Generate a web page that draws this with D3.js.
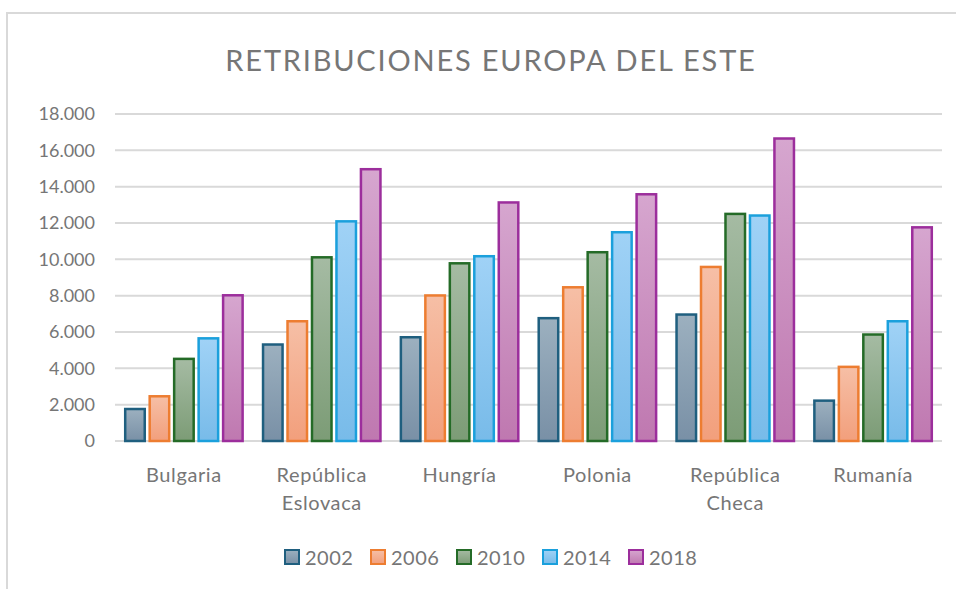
<!DOCTYPE html>
<html>
<head>
<meta charset="utf-8">
<script src="https://cdn.jsdelivr.net/npm/d3@7"></script>
<style>
  body { margin: 0; background: #fff; }
  text { font-family: Lato, "Open Sans", sans-serif; fill: #767676; }
</style>
</head>
<body>
<div id="chart"></div>
<script>
var countries = ["Bulgaria", "República Eslovaca", "Hungría", "Polonia", "República Checa", "Rumanía"];
var years = ["2002", "2006", "2010", "2014", "2018"];
var v2002 = [1830, 5380, 5780, 6830, 7030, 2290];
var v2006 = [2530, 6660, 8080, 8530, 9650, 4150];
var v2010 = [4590, 10180, 9850, 10460, 12570, 5930];
var v2014 = [5720, 12160, 10240, 11560, 12480, 6660];
var v2018 = [8090, 15030, 13200, 13650, 16720, 11830];
var yTicks = [0, 2000, 4000, 6000, 8000, 10000, 12000, 14000, 16000, 18000];

var seriesValues = [v2002, v2006, v2010, v2014, v2018];
var strokes = ["#1f5f7f", "#ed7d31", "#246b27", "#1ba0dc", "#9c2e9c"];
var topFill = ["#9cb0bf", "#f6bfa6", "#a5bba3", "#a0d2f6", "#d6a6cf"];
var botFill = ["#7990a6", "#f29f7c", "#7c9c76", "#78bbe9", "#bf78b0"];

var svgWidth = 956, svgHeight = 589;
var margin = {top: 114, right: 14, bottom: 148, left: 115};
var width = svgWidth - margin.left - margin.right;
var height = svgHeight - margin.top - margin.bottom;

var svg = d3.select("#chart").append("svg")
  .attr("width", svgWidth)
  .attr("height", svgHeight);

// frame
svg.append("path")
  .attr("d", "M7,589 L7,13 L956,13")
  .attr("fill", "none")
  .attr("stroke", "#d9d9d9")
  .attr("stroke-width", 2);

var defs = svg.append("defs");
years.forEach(function(y, i) {
  var g = defs.append("linearGradient")
    .attr("id", "grad" + i)
    .attr("x1", 0).attr("y1", 0).attr("x2", 0).attr("y2", 1);
  g.append("stop").attr("offset", "0%").attr("stop-color", topFill[i]);
  g.append("stop").attr("offset", "100%").attr("stop-color", botFill[i]);
});

svg.append("text")
  .attr("x", 491)
  .attr("y", 71)
  .attr("text-anchor", "middle")
  .style("font-size", "29px")
  .style("letter-spacing", "1.8px")
  .text("RETRIBUCIONES  EUROPA DEL ESTE");

var chartGroup = svg.append("g")
  .attr("transform", `translate(${margin.left}, ${margin.top})`);

var x0 = d3.scaleBand().domain(countries).range([0, width]).paddingInner(0.13).paddingOuter(0.065);
var x1 = d3.scaleBand().domain(years).range([0, x0.bandwidth()]).paddingInner(0.1);
var yScale = d3.scaleLinear().domain([0, 18000]).range([height, 0]);

// gridlines
chartGroup.append("g")
  .selectAll("line")
  .data(yTicks)
  .enter()
  .append("line")
  .attr("x1", 0).attr("x2", width)
  .attr("y1", d => yScale(d)).attr("y2", d => yScale(d))
  .attr("stroke", "#d9d9d9")
  .attr("stroke-width", 2);

// y axis labels
var leftAxis = d3.axisLeft(yScale)
  .tickValues(yTicks)
  .tickSize(0)
  .tickPadding(20)
  .tickFormat(d => d === 0 ? "0" : d3.format(",")(d).replace(/,/g, "."));
var yAxisG = chartGroup.append("g").call(leftAxis);
yAxisG.select(".domain").remove();
yAxisG.selectAll("text").style("font-size", "18px").style("fill", "#767676")
  .style("font-family", "Lato, 'Open Sans', sans-serif");

// bars
var groups = chartGroup.selectAll(".country")
  .data(countries)
  .enter()
  .append("g")
  .attr("transform", d => `translate(${x0(d)}, 0)`);

groups.selectAll("rect")
  .data((c, ci) => years.map((y, si) => ({year: y, si: si, value: seriesValues[si][ci]})))
  .enter()
  .append("rect")
  .attr("x", d => x1(d.year) + 1.25)
  .attr("width", x1.bandwidth() - 2.5)
  .attr("y", d => yScale(d.value) + 1.25)
  .attr("height", d => height - yScale(d.value) - 1.25)
  .attr("fill", d => "url(#grad" + d.si + ")")
  .attr("stroke", d => strokes[d.si])
  .attr("stroke-width", 2.5);

// category labels
var catG = chartGroup.append("g");
countries.forEach(function(c) {
  var words = c.split(" ");
  var t = catG.append("text")
    .attr("text-anchor", "middle")
    .attr("x", x0(c) + x0.bandwidth() / 2)
    .attr("y", height + 41)
    .style("font-size", "20px")
    .style("letter-spacing", "0.6px");
  words.forEach(function(w, i) {
    t.append("tspan")
      .attr("x", x0(c) + x0.bandwidth() / 2)
      .attr("dy", i === 0 ? 0 : 28)
      .text(w);
  });
});

// legend
var legendX = [284, 370, 456, 542, 628];
var legend = svg.append("g");
years.forEach(function(y, i) {
  var g = legend.append("g").attr("transform", `translate(${legendX[i]}, 549)`);
  g.append("rect")
    .attr("x", 1).attr("y", 1)
    .attr("width", 14).attr("height", 14)
    .attr("fill", "url(#grad" + i + ")")
    .attr("stroke", strokes[i])
    .attr("stroke-width", 2);
  g.append("text")
    .attr("x", 21)
    .attr("y", 16)
    .style("font-size", "20px")
    .style("letter-spacing", "0.5px")
    .text(y);
});
</script>
</body>
</html>
